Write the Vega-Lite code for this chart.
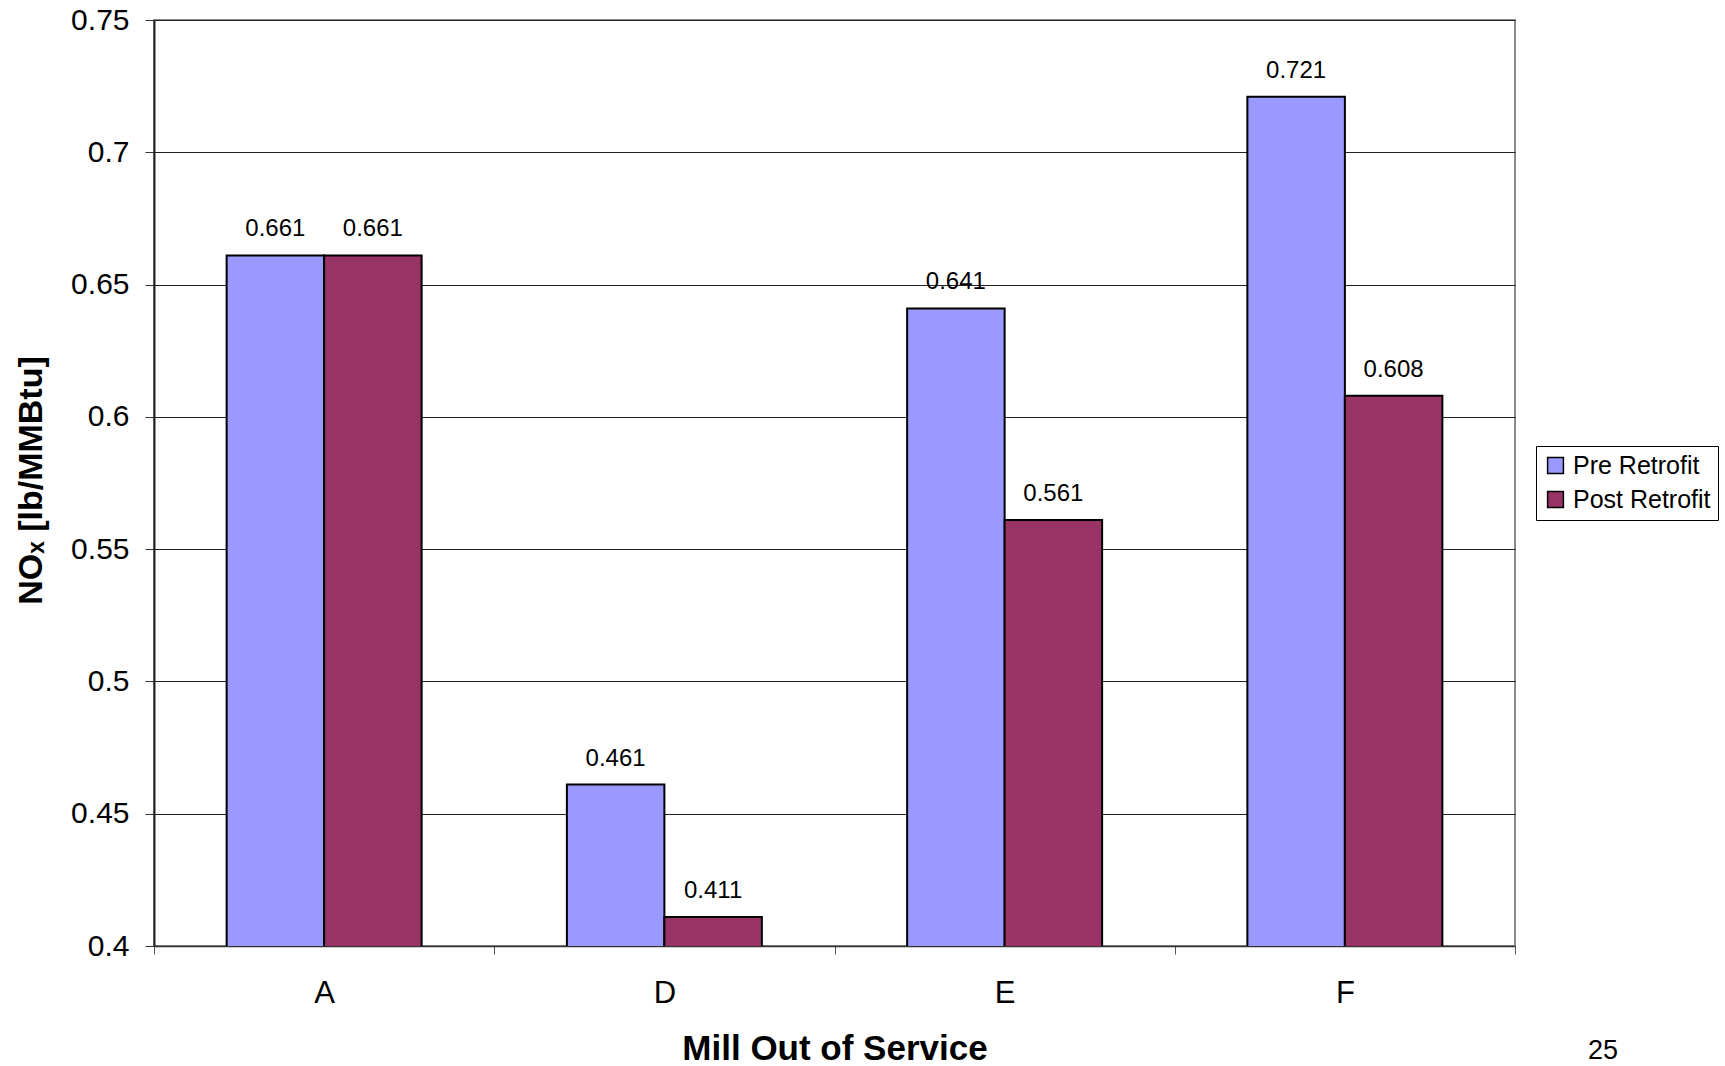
{
  "$schema": "https://vega.github.io/schema/vega-lite/v6.json",
  "autosize": "none",
  "width": 1361,
  "height": 926,
  "padding": {"left": 154, "top": 20, "right": 210, "bottom": 120},
  "background": "white",
  "config": {
    "font": "Liberation Sans",
    "view": {"stroke": "#8a8a8a", "strokeWidth": 2}
  },
  "title": {
    "text": "25",
    "orient": "bottom",
    "anchor": "end",
    "frame": "group",
    "font": "Liberation Sans",
    "fontSize": 27,
    "fontWeight": "normal",
    "color": "#000",
    "dx": 103,
    "dy": -28,
    "offset": 0
  },
  "data": {
    "values": [
      {"mill": "A", "series": "Pre Retrofit", "value": 0.661},
      {"mill": "A", "series": "Post Retrofit", "value": 0.661},
      {"mill": "D", "series": "Pre Retrofit", "value": 0.461},
      {"mill": "D", "series": "Post Retrofit", "value": 0.411},
      {"mill": "E", "series": "Pre Retrofit", "value": 0.641},
      {"mill": "E", "series": "Post Retrofit", "value": 0.561},
      {"mill": "F", "series": "Pre Retrofit", "value": 0.721},
      {"mill": "F", "series": "Post Retrofit", "value": 0.608}
    ]
  },
  "encoding": {
    "x": {
      "field": "mill",
      "type": "nominal",
      "sort": ["A", "D", "E", "F"],
      "scale": {"paddingInner": 0, "paddingOuter": 0},
      "axis": {
        "title": "Mill Out of Service",
        "titleFontSize": 35,
        "titleFontWeight": "bold",
        "titleColor": "#000",
        "titleY": 102,
        "titleBaseline": "middle",
        "labelAngle": 0,
        "labelFontSize": 31,
        "labelColor": "#000",
        "labelPadding": 24,
        "labelBaseline": "top",
        "tickBand": "extent",
        "tickSize": 8,
        "tickColor": "#555",
        "domainColor": "#333",
        "domainWidth": 1.5,
        "grid": false
      }
    },
    "xOffset": {
      "field": "series",
      "type": "nominal",
      "sort": ["Pre Retrofit", "Post Retrofit"],
      "scale": {"paddingInner": 0, "paddingOuter": 0.745}
    },
    "y": {
      "field": "value",
      "type": "quantitative",
      "scale": {"domain": [0.4, 0.75], "nice": false, "zero": false},
      "axis": {
        "title": "NOₓ [lb/MMBtu]",
        "titleFontSize": 34,
        "titleFontWeight": "bold",
        "titleColor": "#000",
        "titleX": -123,
        "titleY": 460,
        "titleAngle": -90,
        "titleAlign": "center",
        "titleBaseline": "middle",
        "values": [0.4, 0.45, 0.5, 0.55, 0.6, 0.65, 0.7, 0.75],
        "format": ".2~f",
        "labelFontSize": 30,
        "labelColor": "#000",
        "labelPadding": 16,
        "tickSize": 9,
        "tickColor": "#333",
        "domainColor": "#222",
        "domainWidth": 2,
        "grid": true,
        "gridColor": "#222",
        "gridWidth": 1
      }
    }
  },
  "layer": [
    {
      "mark": {"type": "bar", "stroke": "#000", "strokeWidth": 2, "clip": true},
      "encoding": {
        "color": {
          "field": "series",
          "type": "nominal",
          "sort": ["Pre Retrofit", "Post Retrofit"],
          "scale": {"domain": ["Pre Retrofit", "Post Retrofit"], "range": ["#9999FF", "#993366"]},
          "legend": {
            "title": null,
            "orient": "none",
            "legendX": 1382,
            "legendY": 426,
            "symbolType": "square",
            "symbolSize": 250,
            "symbolStrokeColor": "#000",
            "symbolStrokeWidth": 1.5,
            "symbolOpacity": 1,
            "labelFontSize": 25,
            "labelColor": "#000",
            "labelOffset": 5,
            "rowPadding": 8,
            "padding": 7,
            "strokeColor": "#000",
            "fillColor": "white"
          }
        }
      }
    },
    {
      "mark": {"type": "text", "dy": -26, "fontSize": 24, "color": "#000", "font": "Liberation Sans"},
      "encoding": {
        "text": {"field": "value", "type": "quantitative", "format": ".3f"}
      }
    }
  ]
}
